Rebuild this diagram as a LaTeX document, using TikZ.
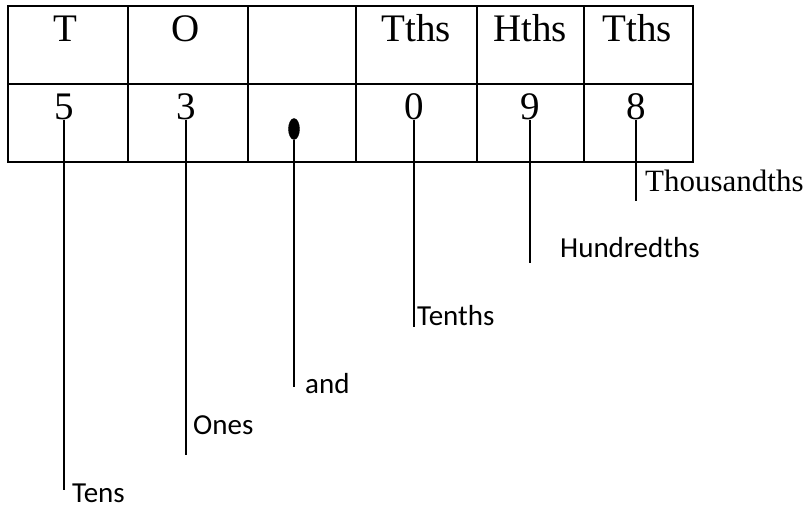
\documentclass[tikz,border=0pt]{standalone}
\usepackage{fontspec}
\usetikzlibrary{shapes.geometric}
\setmainfont{Liberation Serif}
\newfontfamily\labelfont{Carlito}
\begin{document}
\begin{tikzpicture}[x=1pt,y=-1pt,
  rule/.style={line width=2pt,line cap=rect},
  lead/.style={line width=2pt},
  cell/.style={inner sep=0pt,anchor=base,font=\fontsize{39}{42}\selectfont},
  place/.style={inner sep=0pt,anchor=base west,font=\labelfont\fontsize{29}{33}\selectfont},
  serifplace/.style={inner sep=0pt,anchor=base west,font=\fontsize{31}{35}\selectfont}]
  \useasboundingbox (0,0) rectangle (810,508);

  % place-value grid
  \draw[rule] (8,6) rectangle (693,162);
  \draw[rule] (8,84) -- (693,84);
  \foreach \cx in {128,248,356,477,584}
    \draw[rule] (\cx,6) -- (\cx,162);

  % column headings
  \node[cell] (hT)  at (65,42)  {T};
  \node[cell] (hO)  at (186,42) {O};
  \node[cell] (hTt) at (416,42) {Tths};
  \node[cell] (hH)  at (530,42) {Hths};
  \node[cell] (hTh) at (637,42) {Tths};

  % digits
  \node[cell] (d5) at (64,119)  {5};
  \node[cell] (d3) at (186,119) {3};
  \node[cell] (d0) at (414,119) {0};
  \node[cell] (d9) at (530,119) {9};
  \node[cell] (d8) at (636,119) {8};
  \node[draw,fill=black,ellipse,inner sep=0pt,minimum width=11pt,minimum height=21pt] (pt) at (294,129) {};

  % leader ends
  \coordinate (eTens) at (64,490);
  \coordinate (eOnes) at (186,455);
  \coordinate (eAnd)  at (294,387);
  \coordinate (eTen)  at (414,327);
  \coordinate (eHun)  at (530,263);
  \coordinate (eTho)  at (636,201);

  % place names
  \node[place] (lTens) at (72,502)  {Tens};
  \node[place] (lOnes) at (193,434) {Ones};
  \node[place] (lAnd)  at (305,393) {and};
  \node[place] (lTen)  at (417,325) {Tenths};
  \node[place] (lHun)  at (560,257) {Hundredths};
  \node[serifplace] (lTho) at (645,191) {Thousandths};

  % leaders
  \draw[lead] (d5.south) -- (d5.south |- eTens);
  \draw[lead] (d3.south) -- (d3.south |- eOnes);
  \draw[lead] (pt.south) -- (pt.south |- eAnd);
  \draw[lead] (d0.south) -- (d0.south |- eTen);
  \draw[lead] (d9.south) -- (d9.south |- eHun);
  \draw[lead] (d8.south) -- (d8.south |- eTho);
\end{tikzpicture}
\end{document}
